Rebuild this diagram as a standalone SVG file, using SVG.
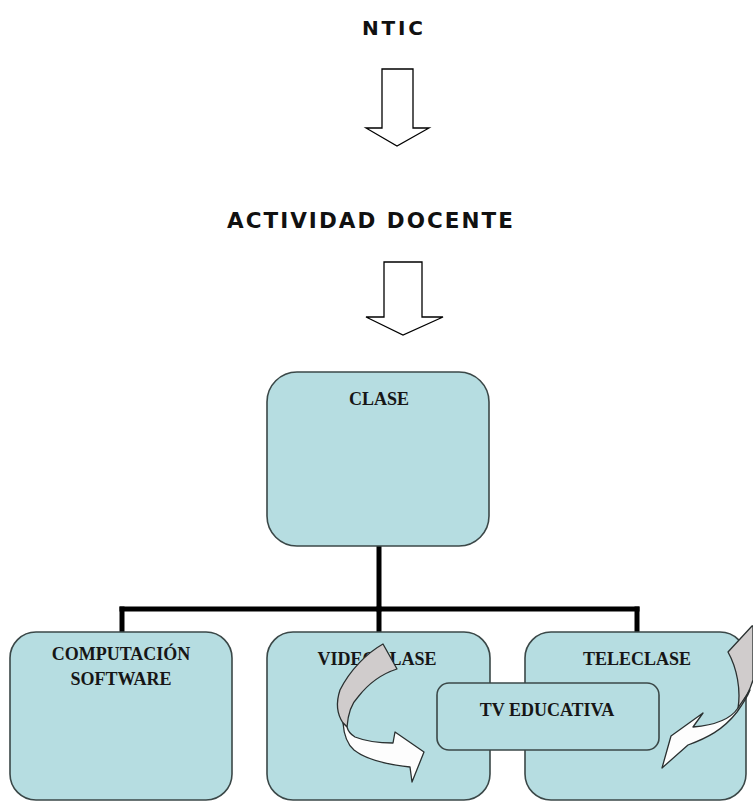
<svg xmlns="http://www.w3.org/2000/svg" width="753" height="803" viewBox="0 0 753 803">
  <defs>
    <style>
      .title { font-family: "DejaVu Sans", Verdana, sans-serif; font-weight: bold; fill: #111; }
      .box { fill: #b6dde1; stroke: #3b4848; stroke-width: 1.6; }
      .lbl { font-family: "Liberation Serif", "Times New Roman", serif; font-weight: bold; font-size: 18px; fill: #161616; text-anchor: middle; }
      .blk { fill: #fff; stroke: #000; stroke-width: 1.3; stroke-linejoin: miter; }
      .conn { fill: none; stroke: #000; stroke-width: 5; stroke-linecap: square; }
      .gray { fill: #d0cccc; stroke: #2a3030; stroke-width: 1.3; stroke-linejoin: round; }
      .white { fill: #fdfdfd; stroke: #2a3030; stroke-width: 1.3; stroke-linejoin: round; }
    </style>
  </defs>

  <g id="ntic">
    <text class="title" x="362" y="35" font-size="20" textLength="61" lengthAdjust="spacing">NTIC</text>
  </g>
  <g id="arrow1">
    <path class="blk" d="M382,69 H413 V128 H429 L397,146 L366,128 H382 Z"/>
  </g>
  <g id="actividad">
    <text class="title" x="227" y="228" font-size="21.5" textLength="286" lengthAdjust="spacing">ACTIVIDAD DOCENTE</text>
  </g>
  <g id="arrow2">
    <path class="blk" d="M384,262 H422 V317 H443 L403,335 L366,317 H384 Z"/>
  </g>

  <g id="connectors">
    <path class="conn" d="M379,548 V609"/>
    <path class="conn" d="M122,609 H637"/>
    <path class="conn" d="M122,609 V631"/>
    <path class="conn" d="M379,609 V631"/>
    <path class="conn" d="M637,609 V631"/>
  </g>

  <g id="clase">
    <rect class="box" x="267" y="372" width="222" height="174" rx="30" ry="30"/>
    <text class="lbl" x="379" y="405">CLASE</text>
  </g>

  <g id="computacion">
    <rect class="box" x="10" y="632" width="222" height="168" rx="26" ry="26"/>
    <text class="lbl" x="121" y="660">COMPUTACIÓN</text>
    <text class="lbl" x="121" y="685">SOFTWARE</text>
  </g>

  <g id="videoclase">
    <rect class="box" x="267" y="632" width="223" height="168" rx="26" ry="26"/>
    <text class="lbl" x="377" y="665">VIDEOCLASE</text>
  </g>

  <g id="teleclase">
    <rect class="box" x="525" y="632" width="221" height="168" rx="26" ry="26"/>
    <text class="lbl" x="637" y="665">TELECLASE</text>
  </g>

  <g id="tv-educativa">
    <rect class="box" x="437" y="683" width="222" height="67" rx="12" ry="12"/>
    <text class="lbl" x="547" y="716">TV EDUCATIVA</text>
  </g>

  <g id="curved-arrow-left">
    <path class="gray" d="M383,644 C367,653 350,670 340,690 C336,702 337,714 343,723 L347,727 C348,714 352,703 358,697 C365,688 378,675 397,669 Z"/>
    <path class="white" d="M343,723 C344,736 347,744 354,750 C364,758 382,764 410,767 L412,782 L424,752 L395,732 L393,743 C380,743 365,741 355,737 C350,734 348,731 347,727 Z"/>
  </g>

  <g id="curved-arrow-right">
    <path class="gray" d="M728,652 L752,626 L753,626 L753,680 C750,690 745,700 738,708 C741,690 737,668 728,652 Z"/>
    <path class="white" d="M738,708 C732,717 718,725 693,727 L703,713 L671,736 L662,768 L688,745 C707,738 723,730 737,712 C742,705 747,698 750,690 Z"/>
  </g>
</svg>
